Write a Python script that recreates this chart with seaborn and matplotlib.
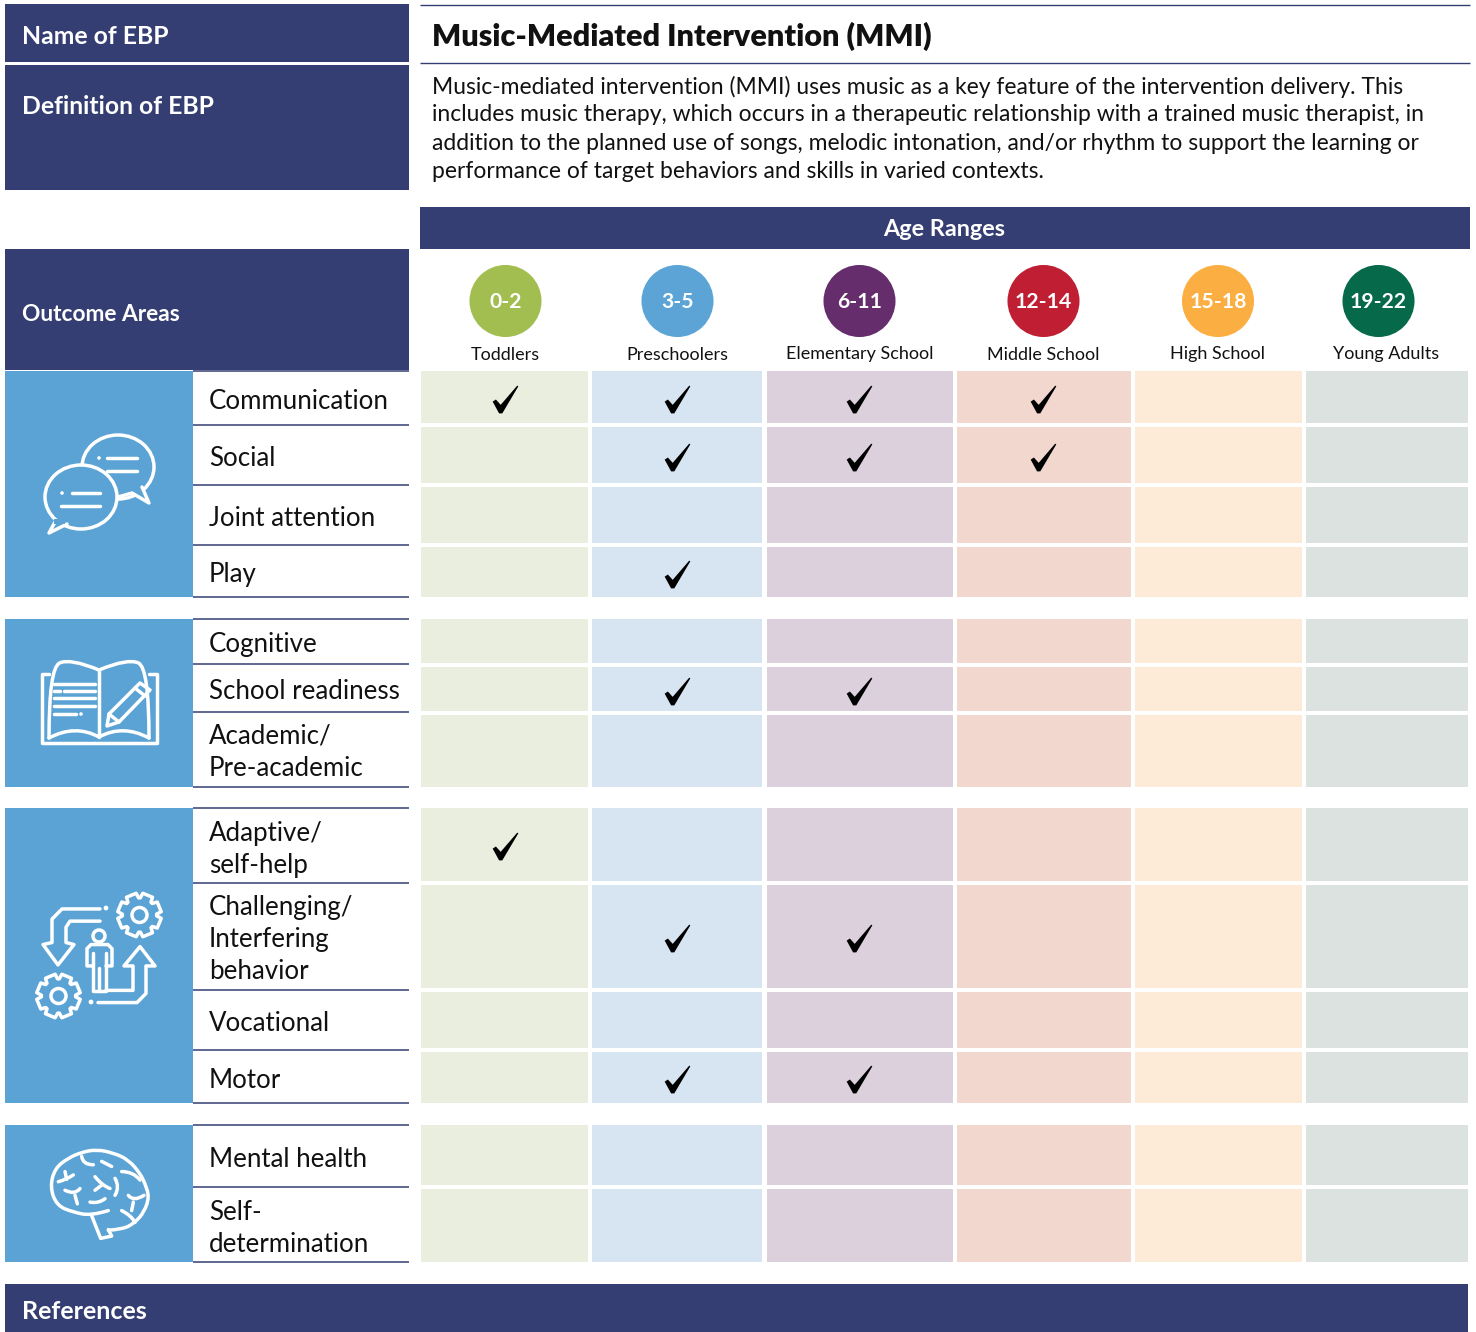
import math
import matplotlib
matplotlib.use("Agg")
import matplotlib.pyplot as plt
import pandas as pd
import seaborn as sns
from matplotlib.path import Path
from matplotlib.patches import PathPatch, Circle, Ellipse, Rectangle

# ---------- content ----------
NAME_LABEL = "Name of EBP"
DEF_LABEL = "Definition of EBP"
TITLE = "Music-Mediated Intervention (MMI)"
DEFINITION = [
    "Music-mediated intervention (MMI) uses music as a key feature of the intervention delivery. This",
    "includes music therapy, which occurs in a therapeutic relationship with a trained music therapist, in",
    "addition to the planned use of songs, melodic intonation, and/or rhythm to support the learning or",
    "performance of target behaviors and skills in varied contexts.",
]
AGE_HEADER = "Age Ranges"
OUTCOME_HEADER = "Outcome Areas"
REF_LABEL = "References"
AGES = ["0-2", "3-5", "6-11", "12-14", "15-18", "19-22"]
AGE_NAMES = ["Toddlers", "Preschoolers", "Elementary School", "Middle School", "High School", "Young Adults"]
OUTCOMES = ["Communication", "Social", "Joint attention", "Play",
            "Cognitive", "School readiness", "Academic/\nPre-academic",
            "Adaptive/\nself-help", "Challenging/\nInterfering\nbehavior", "Vocational", "Motor",
            "Mental health", "Self-\ndetermination"]
CHECKS = {
    "0-2": ["Communication", "Adaptive/\nself-help"],
    "3-5": ["Communication", "Social", "Play", "School readiness",
            "Challenging/\nInterfering\nbehavior", "Motor"],
    "6-11": ["Communication", "Social", "School readiness",
             "Challenging/\nInterfering\nbehavior", "Motor"],
    "12-14": ["Communication", "Social"],
    "15-18": [],
    "19-22": [],
}

# ---------- layout (pixels) ----------
ROW_TOP = [371, 427, 487, 547, 619, 667, 715, 808, 885, 992, 1052, 1125, 1189]
ROW_BOT = [423, 483, 543, 597, 663, 711, 787, 881, 988, 1048, 1103, 1185, 1262]
ROW_TEXT = [400, 457, 517, 573, 643, 690, 751, 848, 938, 1022, 1079, 1158, 1227]
RULES = [371, 425, 485, 545, 597, 619, 664, 712, 787, 808, 883, 990, 1050, 1103, 1125, 1187, 1262]
COL_L = [421, 592, 767, 957, 1135, 1306]
COL_R = [588, 762, 953, 1131, 1302, 1468]
COL_C = [505.5, 677.5, 859.5, 1043.5, 1218, 1378.5]
NAME_C = [505.5, 677.5, 859.5, 1043.5, 1218, 1386]
PANELS = [(371, 597), (619, 787), (808, 1103), (1125, 1262)]

NAVY = "#353E73"
BLUE = "#5BA3D4"
CELL = ["#EAEEDF", "#D7E5F3", "#DBD0DC", "#F2D7CF", "#FDEAD7", "#DCE2E0"]
DOT = ["#A2BD50", "#5BA4D5", "#652D6C", "#C01F33", "#FBAF43", "#05694A"]
INK = "#111111"

sns.set_theme(style="white")
plt.rcParams["font.family"] = ["Lato", "DejaVu Sans"]
fig = plt.figure(figsize=(14.76, 13.32), dpi=100)
ax = fig.add_axes([0, 0, 1, 1])
ax.set_xlim(0, 1476)
ax.set_ylim(1332, 0)
ax.axis("off")


def box(x0, y0, x1, y1, color):
    ax.add_patch(Rectangle((x0, y0), x1 - x0, y1 - y0, fc=color, ec="none"))


def label(x, y, s, size, color=INK, weight="normal", ha="left", **kw):
    ax.text(x, y + 1.5, s, color=color, fontsize=size, fontweight=weight, ha=ha, va="center", **kw)


# header blocks
box(5, 4, 409, 62, NAVY)
box(5, 65, 409, 190, NAVY)
box(420, 207, 1470, 249, NAVY)
box(5, 249, 409, 370, NAVY)
box(5, 1284, 1468, 1332, NAVY)
ax.hlines([5, 63], 420, 1470, color=NAVY, lw=1)

label(22, 35, NAME_LABEL, 17.8, "white", "bold")
label(22, 105, DEF_LABEL, 17.8, "white", "bold")
label(22, 313, OUTCOME_HEADER, 16.4, "white", "bold")
label(22, 1310, REF_LABEL, 18, "white", "bold")
label(944.5, 228, AGE_HEADER, 16.8, "white", "bold", ha="center")
label(432, 35, TITLE, 22, "#111111", "heavy")
for y, line in zip([85, 113, 142, 170], DEFINITION):
    label(432, y, line, 16.5)

# matrix cells
for j in range(len(AGES)):
    ax.bar(x=COL_L[j], width=COL_R[j] - COL_L[j],
           bottom=ROW_TOP, height=[b - t for t, b in zip(ROW_TOP, ROW_BOT)],
           align="edge", color=CELL[j], linewidth=0)

# outcome panel
for t, b in PANELS:
    box(5, t, 193, b, BLUE)
ax.hlines(RULES, 193, 409, color=NAVY, lw=1.1)
for s, y in zip(OUTCOMES, ROW_TEXT):
    label(209, y, s, 18.6, linespacing=1.36)

# age circles
ages = pd.DataFrame({"x": COL_C, "y": [301] * 6, "age": AGES})
sns.scatterplot(data=ages, x="x", y="y", hue="age", palette=DOT, s=2690,
                linewidth=0, legend=False, ax=ax, clip_on=False)
for x, a in zip(COL_C, AGES):
    label(x, 300, a, 15.2, "white", "bold", ha="center")
for x, n in zip(NAME_C, AGE_NAMES):
    label(x, 353, n, 13, ha="center")

# check marks
check_path = Path([(-12, -2), (-9, 0), (-4.5, -5), (11, 13), (12, 12.3), (-3, -13), (-6, -13), (-12, -2)],
                  [Path.MOVETO] + [Path.LINETO] * 6 + [Path.CLOSEPOLY])
rows = [(COL_C[AGES.index(a)] - 0.5, (ROW_TOP[OUTCOMES.index(o)] + ROW_BOT[OUTCOMES.index(o)]) / 2 + 1.5)
        for a, os_ in CHECKS.items() for o in os_]
checks = pd.DataFrame(rows, columns=["x", "y"])
sns.scatterplot(data=checks, x="x", y="y", marker=check_path, s=400, color="black",
                linewidth=0, legend=False, ax=ax)
ax.set_xlim(0, 1476)
ax.set_ylim(1332, 0)
ax.axis("off")

# ---------- icons ----------
LW = 2.5


def poly(pts, closed=False, fill=None, lw=LW):
    codes = [Path.MOVETO] + [Path.LINETO] * (len(pts) - 1)
    if closed:
        pts = pts + [pts[0]]
        codes = codes + [Path.CLOSEPOLY]
    ax.add_patch(PathPatch(Path(pts, codes), fc=fill or "none", ec="white", lw=lw,
                           joinstyle="round", capstyle="round"))


def smooth(pts, lw=LW):
    """Quadratic spline through midpoints of the control points."""
    verts = [pts[0]]
    codes = [Path.MOVETO]
    for i in range(1, len(pts) - 1):
        last = i == len(pts) - 2
        mx = pts[i + 1][0] if last else (pts[i][0] + pts[i + 1][0]) / 2
        my = pts[i + 1][1] if last else (pts[i][1] + pts[i + 1][1]) / 2
        verts += [pts[i], (mx, my)]
        codes += [Path.CURVE3, Path.CURVE3]
    if len(pts) == 2:
        verts.append(pts[1])
        codes.append(Path.LINETO)
    ax.add_patch(PathPatch(Path(verts, codes), fc="none", ec="white", lw=lw,
                           capstyle="round", joinstyle="round"))


def dot(x, y, r=1.8):
    ax.add_patch(Circle((x, y), r, fc="white", ec="none"))


# speech bubbles
ax.add_patch(Ellipse((118, 467), 72, 64, fc=BLUE, ec="white", lw=LW))
poly([(118, 497), (132, 493), (149, 503), (142, 487)], fill=BLUE)
dot(99, 458)
poly([(107, 458), (137, 458)])
poly([(107, 471), (137, 471)])
ax.add_patch(Ellipse((81, 497), 72, 64, fc=BLUE, ec="white", lw=LW))
poly([(55, 522), (49, 533), (67, 524)], fill=BLUE)
box(54, 519, 65, 524, BLUE)
dot(62, 493)
poly([(72, 493), (100, 493)])
poly([(61, 506), (100, 506)])

# book
poly([(49, 674), (42, 674), (42, 743), (157, 743), (157, 674), (149, 674)])
smooth([(49, 738), (49, 668), (70, 658), (99, 670)])
smooth([(149, 738), (149, 668), (128, 658), (99, 670)])
smooth([(49, 738), (75, 724), (99, 737)])
smooth([(149, 738), (123, 724), (99, 737)])
poly([(99, 670), (99, 737)])
for y, a, b in [(684, 54, 95), (691, 64, 95), (698, 54, 95), (706, 54, 95), (714, 54, 76)]:
    poly([(a, y), (b, y)])
poly([(54, 691), (60, 691)])
dot(81, 714)
poly([(107, 726), (109, 714), (140, 683), (150, 690), (119, 722)], closed=True)
poly([(109, 714), (119, 722)])
poly([(135, 688), (145, 696)])


# process icon
def py(pts):
    return [(x, 800 + (y - 800) * 1.018) for x, y in pts]


def gear(cx, cy, r=22, hole=7.5, teeth=8):
    pts = []
    for k in range(teeth):
        base = 2 * math.pi * k / teeth + math.pi / 8
        for off, rad in [(-0.24, r), (0.24, r), (0.34, r * 0.78), (0.44, r * 0.78)]:
            a = base + off
            pts.append((cx + rad * math.cos(a), cy + rad * math.sin(a)))
    poly(pts, closed=True)
    ax.add_patch(Circle((cx, cy), hole, fc="none", ec="white", lw=LW))


gear(139.5, 915)
gear(58.5, 996)
poly(py([(100, 907), (62, 907), (52, 917), (52, 940), (43, 942), (58, 962), (74, 942), (66, 940),
         (66, 925), (70, 919), (100, 919)]))
dot(106, 908, 2.4)
ax.add_patch(Circle((99, 936), 6, fc="none", ec="white", lw=LW))
poly(py([(93, 963), (87, 963), (87, 946), (91, 942), (108, 942), (112, 946), (112, 963), (106, 963)]))
poly(py([(93, 950), (93, 988), (106, 988), (106, 950)]))
poly(py([(99, 965), (99, 988)]))
poly(py([(106, 987), (133, 987), (133, 963), (124, 963), (140, 944), (155, 963), (146, 963),
         (146, 990), (137, 999), (98, 999)]))
dot(91, 1002, 2.4)


# brain
def bz(pts):
    return [(x / 3, 800 + y / 2.947) for x, y in pts]


smooth(bz([(325, 1210), (275, 1225), (220, 1215), (170, 1195), (150, 1140), (165, 1085), (205, 1055),
           (245, 1038), (290, 1030), (340, 1040), (385, 1060), (420, 1100), (435, 1130), (448, 1170),
           (432, 1215), (405, 1245), (370, 1265), (325, 1268)]))
poly(bz([(275, 1225), (302, 1292), (335, 1285), (325, 1266)]))
for seg in [[(175, 1125), (200, 1118), (220, 1105)], [(195, 1095), (200, 1118)],
            [(245, 1050), (248, 1075), (280, 1075)], [(305, 1065), (335, 1080)],
            [(345, 1115), (360, 1140), (345, 1165)], [(285, 1110), (305, 1135), (330, 1145)],
            [(285, 1150), (305, 1135)], [(195, 1150), (225, 1165), (240, 1145)],
            [(225, 1165), (232, 1190)], [(270, 1185), (295, 1190), (315, 1175)],
            [(365, 1095), (400, 1095), (420, 1120)], [(385, 1165), (400, 1185), (432, 1165)],
            [(400, 1185), (395, 1210)], [(365, 1210), (395, 1225), (405, 1245)]]:
    smooth(bz(seg))

fig.savefig("out.png", dpi=100, facecolor="white")
